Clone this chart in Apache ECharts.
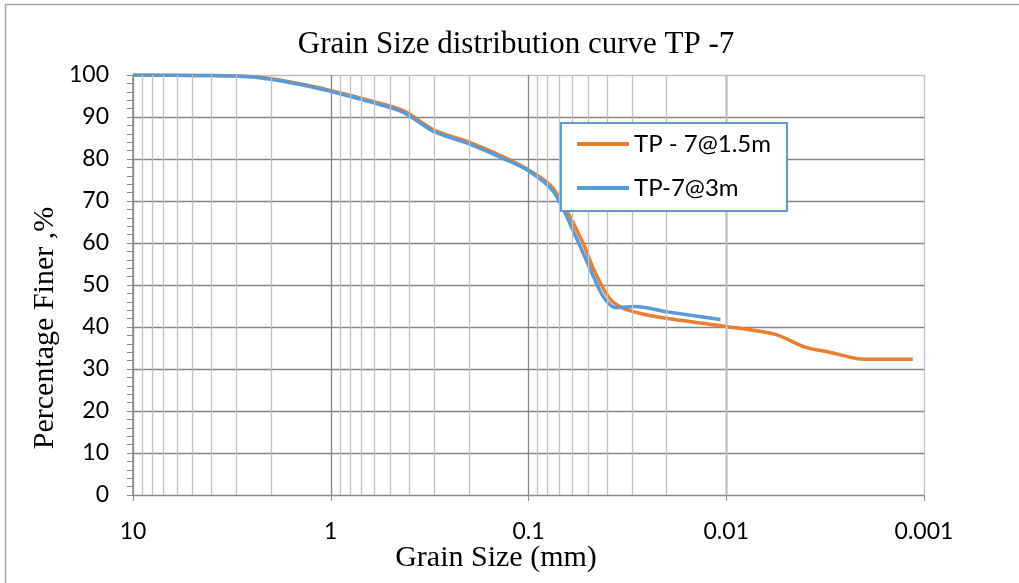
<!DOCTYPE html>
<html>
<head>
<meta charset="utf-8">
<script src="https://cdn.jsdelivr.net/npm/echarts@6/dist/echarts.min.js"></script>
<style>
  html, body { margin: 0; padding: 0; background: #fff; }
  #chart { width: 1019px; height: 583px; }
</style>
</head>
<body>
<div id="chart"></div>
<script>
// Sieve + hydrometer results: [grain size (mm), percentage finer]
const seriesNames = ['TP - 7@1.5m', 'TP-7@3m'];
const tp7at1_5m = [
  [10, 100], [4.75, 99.9], [2.36, 99.5], [1.18, 97.1], [0.6, 93.6], [0.425, 91.4],
  [0.3, 86.9], [0.2, 84.0], [0.134, 80.5], [0.1, 77.4], [0.075, 73.0], [0.0537, 60.6],
  [0.0466, 53.5], [0.0393, 47.1], [0.0343, 44.8], [0.0271, 43.2], [0.0198, 42.0],
  [0.0103, 40.2], [0.0057, 38.3], [0.0040, 35.2], [0.0030, 34.0], [0.0020, 32.3],
  [0.00114, 32.3]
];
const tp7at3m = [
  [10, 100], [4.75, 99.9], [2.36, 99.4], [1.18, 96.9], [0.6, 93.3], [0.425, 91.0],
  [0.3, 86.5], [0.2, 83.6], [0.134, 80.1], [0.1, 77.2], [0.075, 72.3], [0.0565, 60.6],
  [0.0485, 53.5], [0.0417, 47.1], [0.036, 44.6], [0.029, 44.9], [0.0198, 43.6],
  [0.0107, 41.8]
];
const xTickLabels = ['0.001', '0.01', '0.1', '1', '10'];
const yTickLabels = ['0', '10', '20', '30', '40', '50', '60', '70', '80', '90', '100'];

const ORANGE = '#ed7d31';
const BLUE = '#5b9bd5';

// log-cycle minor grid lines (2..9 x 10^k)
const minorGridValues = [];
for (let k = -3; k <= 0; k++) {
  for (let m = 2; m <= 9; m++) minorGridValues.push(+(m * Math.pow(10, k)).toPrecision(3));
}

const chart = echarts.init(document.getElementById('chart'));
const sans = 'Lato';
const serif = '"Liberation Serif"';

chart.setOption({
  animation: false,
  grid: { left: 133, right: 95, top: 75, bottom: 88 },
  xAxis: {
    type: 'log',
    logBase: 10,
    min: 0.001,
    max: 10,
    inverse: true,
    axisLine: { show: true, lineStyle: { color: '#8c8c8c', width: 1 } },
    axisTick: { show: true, length: 6, lineStyle: { color: '#8c8c8c' } },
    axisLabel: {
      margin: 25,
      fontFamily: sans, fontSize: 23, color: '#000',
      formatter: v => {
        const i = Math.round(Math.log10(v)) + 3;
        return xTickLabels[i] !== undefined ? xTickLabels[i] : '';
      }
    },
    splitLine: {
      show: true,
      lineStyle: { color: ['#bfbfbf', '#858585', '#858585', '#858585', '#858585'], width: 1.3 }
    },
    minorTick: { show: false },
    minorSplitLine: { show: false }
  },
  yAxis: {
    type: 'value',
    min: 0,
    max: 100,
    interval: 10,
    axisLine: { show: true, lineStyle: { color: '#8c8c8c', width: 1.5 } },
    axisTick: { show: true, length: 6, lineStyle: { color: '#8c8c8c' } },
    minorTick: { show: true, splitNumber: 5, length: 6, lineStyle: { color: '#8c8c8c' } },
    axisLabel: {
      margin: 24,
      fontFamily: sans, fontSize: 23, color: '#000',
      formatter: v => yTickLabels[Math.round(v / 10)]
    },
    splitLine: {
      show: true,
      lineStyle: {
        color: ['#858585', '#858585', '#858585', '#858585', '#858585', '#858585',
                '#858585', '#858585', '#858585', '#858585', '#bfbfbf'],
        width: 1.3
      }
    }
  },
  legend: {
    orient: 'vertical',
    left: 561,
    top: 123,
    z: 20,
    padding: [9, 16, 11, 16],
    itemGap: 20,
    itemWidth: 52,
    itemHeight: 4,
    icon: 'rect',
    borderColor: BLUE,
    borderWidth: 2,
    backgroundColor: '#fff',
    textStyle: { fontFamily: sans, fontSize: 24, color: '#000' },
    data: seriesNames
  },
  graphic: [
    {
      type: 'rect', silent: true, z: -1,
      shape: { x: 5.5, y: 4.5, width: 1100, height: 700 },
      style: { fill: 'none', stroke: '#a6a6a6', lineWidth: 1.5 }
    },
    {
      type: 'text', x: 516, y: 45, silent: true,
      style: { text: 'Grain Size distribution curve TP -7', fontFamily: serif, fontSize: 31,
               fill: '#000', align: 'center', verticalAlign: 'middle' }
    },
    {
      type: 'text', x: 496, y: 558, silent: true,
      style: { text: 'Grain Size (mm)', fontFamily: serif, fontSize: 30,
               fill: '#000', align: 'center', verticalAlign: 'middle' }
    },
    {
      type: 'text', x: 45, y: 328, rotation: Math.PI / 2, silent: true,
      style: { text: 'Percentage Finer ,%', fontFamily: serif, fontSize: 30,
               fill: '#000', align: 'center', verticalAlign: 'middle' }
    }
  ],
  series: [
    {
      name: 'minor-grid',
      type: 'line',
      data: [],
      z: 0,
      silent: true,
      markLine: {
        silent: true,
        symbol: ['none', 'none'],
        label: { show: false },
        lineStyle: { color: '#c0c0c0', width: 1.3, type: 'solid' },
        emphasis: { disabled: true },
        data: minorGridValues.map(v => ({ xAxis: v }))
      }
    },
    {
      name: seriesNames[0],
      type: 'line',
      data: tp7at1_5m,
      symbol: 'none',
      smooth: 0.3,
      z: 3,
      itemStyle: { color: ORANGE },
      lineStyle: { width: 3.5, color: ORANGE }
    },
    {
      name: seriesNames[1],
      type: 'line',
      data: tp7at3m,
      symbol: 'none',
      smooth: 0.3,
      z: 4,
      itemStyle: { color: BLUE },
      lineStyle: { width: 3.5, color: BLUE }
    }
  ]
});
</script>
</body>
</html>
